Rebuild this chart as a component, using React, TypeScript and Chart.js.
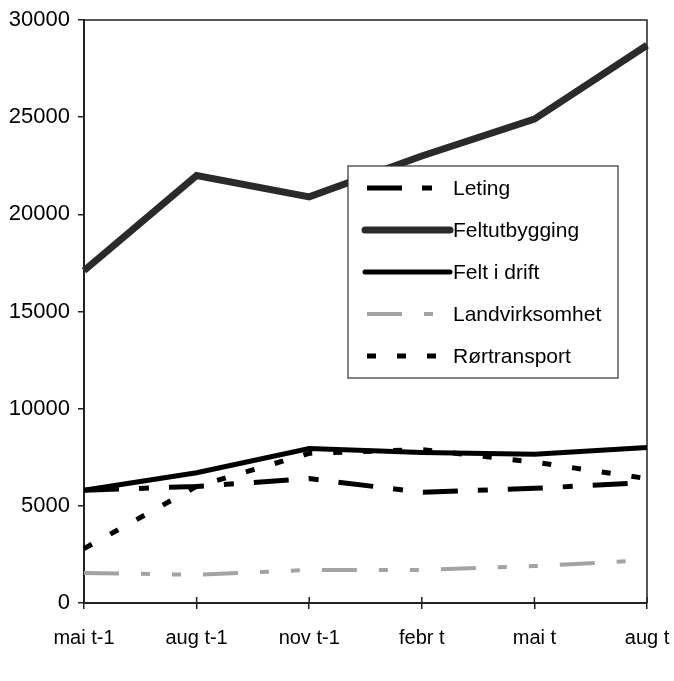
import React, { useEffect, useRef } from "react";
import { Chart, registerables } from "chart.js";

Chart.register(...registerables);

// Periods on the horizontal axis
const periods = ["mai t-1", "aug t-1", "nov t-1", "febr t", "mai t", "aug t"];

// Series values (mill. kr)
const leting = [5800, 6000, 6400, 5700, 5900, 6200];
const feltutbygging = [17100, 22000, 20900, 23000, 24900, 28700];
const feltIDrift = [5800, 6700, 7950, 7750, 7650, 8000];
const landvirksomhet = [1550, 1450, 1700, 1700, 1900, 2200];
const rortransport = [2800, 6000, 7700, 7900, 7250, 6400];

const seriesNames = ["Leting", "Feltutbygging", "Felt i drift", "Landvirksomhet", "Rørtransport"];

// Value axis
const yMin = 0;
const yMax = 30000;
const yStep = 5000;

const FONT = "'Liberation Sans', Arial, Helvetica, sans-serif";
const WIDTH = 674;
const HEIGHT = 681;

// Top and right sides of the plot frame, plus the inner halves of the x ticks
const framePlugin = {
  id: "frame",
  beforeDatasetsDraw(chart: any) {
    const { ctx, chartArea: a, scales } = chart;
    ctx.save();
    ctx.strokeStyle = "#222";
    ctx.lineWidth = 1.5;
    ctx.beginPath();
    ctx.moveTo(a.left, a.top);
    ctx.lineTo(a.right, a.top);
    ctx.lineTo(a.right, a.bottom);
    ctx.stroke();
    const x = scales.x;
    ctx.beginPath();
    x.ticks.forEach((_: any, i: number) => {
      const px = x.getPixelForTick(i);
      ctx.moveTo(px, a.bottom);
      ctx.lineTo(px, a.bottom - 6);
    });
    ctx.stroke();
    ctx.restore();
  },
};

// Boxed legend placed inside the plot, covering the lines behind it
const legendBoxPlugin = {
  id: "legendBox",
  afterDatasetsDraw(chart: any) {
    const { ctx } = chart;
    const left = 348;
    const top = 166;
    const width = 270;
    const height = 212;
    const rowGap = 42;
    ctx.save();
    ctx.fillStyle = "#fff";
    ctx.fillRect(left, top, width, height);
    ctx.strokeStyle = "#333";
    ctx.lineWidth = 1.2;
    ctx.strokeRect(left, top, width, height);

    chart.data.datasets.forEach((ds: any, i: number) => {
      const y = top + 22 + i * rowGap;
      const dash: number[] = ds.borderDash || [];
      ctx.save();
      ctx.beginPath();
      ctx.setLineDash(dash);
      ctx.lineWidth = ds.borderWidth;
      ctx.strokeStyle = ds.borderColor;
      ctx.lineCap = dash.length ? "butt" : "round";
      const x0 = dash.length ? left + 19 : left + 17;
      ctx.moveTo(x0, y);
      ctx.lineTo(left + 102, y);
      ctx.stroke();
      ctx.restore();

      ctx.fillStyle = "#000";
      ctx.font = `21px ${FONT}`;
      ctx.textBaseline = "middle";
      ctx.textAlign = "left";
      ctx.fillText(ds.label, left + 105, y + 1);
    });
    ctx.restore();
  },
};

export default function App() {
  const ref = useRef<HTMLCanvasElement>(null);

  useEffect(() => {
    Chart.defaults.font.family = FONT;
    Chart.defaults.font.size = 20;
    Chart.defaults.color = "#000";

    const chart = new Chart(ref.current as HTMLCanvasElement, {
      type: "line",
      data: {
        labels: periods,
        datasets: [
          {
            label: seriesNames[0],
            data: leting,
            borderColor: "#000",
            borderWidth: 5,
            borderDash: [35, 20, 10, 20],
          },
          {
            label: seriesNames[1],
            data: feltutbygging,
            borderColor: "#2a2a2a",
            borderWidth: 7,
          },
          {
            label: seriesNames[2],
            data: feltIDrift,
            borderColor: "#000",
            borderWidth: 5,
          },
          {
            label: seriesNames[3],
            data: landvirksomhet,
            borderColor: "#a3a3a3",
            borderWidth: 4,
            borderDash: [35, 22, 9, 22, 9, 22],
          },
          {
            label: seriesNames[4],
            data: rortransport,
            borderColor: "#000",
            borderWidth: 5,
            borderDash: [9, 21],
          },
        ],
      },
      options: {
        animation: false,
        responsive: false,
        maintainAspectRatio: false,
        devicePixelRatio: 1,
        layout: { padding: { top: 20, right: 27, left: 0, bottom: 0 } },
        elements: {
          point: { radius: 0, hoverRadius: 0 },
          line: { tension: 0, fill: false },
        },
        plugins: {
          legend: { display: false },
          tooltip: { enabled: false },
        },
        scales: {
          x: {
            type: "category",
            offset: false,
            grid: {
              display: true,
              drawOnChartArea: false,
              drawTicks: true,
              tickLength: 6,
              color: "#222",
              lineWidth: 1.5,
            },
            border: { display: true, color: "#222", width: 2 },
            ticks: {
              padding: 17,
              maxRotation: 0,
              autoSkip: false,
              color: "#000",
              font: { size: 20, family: FONT },
            },
            afterFit(scale: any) {
              scale.height = 78;
              scale.paddingLeft = 0;
              scale.paddingRight = 0;
            },
          },
          y: {
            type: "linear",
            min: yMin,
            max: yMax,
            grid: {
              display: true,
              drawOnChartArea: false,
              drawTicks: true,
              tickLength: 6,
              color: "#222",
              lineWidth: 1.5,
            },
            border: { display: true, color: "#222", width: 2 },
            ticks: {
              stepSize: yStep,
              padding: 8,
              color: "#000",
              font: { size: 22, family: FONT },
              callback: (v: any) => String(v),
            },
            afterFit(scale: any) {
              scale.width = 84;
              scale.paddingTop = 0;
              scale.paddingBottom = 0;
            },
          },
        },
      },
      plugins: [framePlugin, legendBoxPlugin],
    });

    return () => chart.destroy();
  }, []);

  return (
    <div style={{ position: "fixed", left: 0, top: 0, width: WIDTH, height: HEIGHT }}>
      <canvas ref={ref} width={WIDTH} height={HEIGHT} style={{ display: "block" }} />
    </div>
  );
}
